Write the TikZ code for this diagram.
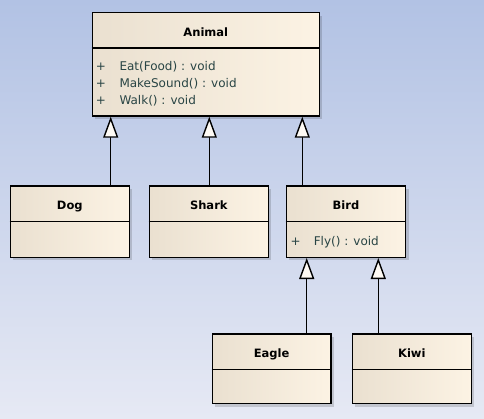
\documentclass[tikz,border=0pt]{standalone}
\usepackage{fontspec}
\setmainfont{DejaVu Sans}
\usetikzlibrary{arrows.meta,shadows}
\definecolor{bgtop}{RGB}{178,194,228}
\definecolor{bgbot}{RGB}{230,233,244}
\definecolor{boxl}{RGB}{234,224,208}
\definecolor{boxr}{RGB}{252,243,228}
\definecolor{optext}{RGB}{40,68,68}
\begin{document}
\begin{tikzpicture}[x=1pt,y=-1pt,
  classbox/.style={draw=black, line width=1.4pt, left color=boxl, right color=boxr,
    inner sep=0pt, drop shadow={shadow xshift=3pt, shadow yshift=-3pt, fill=black, opacity=0.15}},
  sep/.style={draw=black, line width=1.3pt},
  title/.style={anchor=base, inner sep=0pt, font=\fontsize{11.5}{13}\selectfont\bfseries},
  optxt/.style={anchor=base west, inner sep=0pt, text=optext, font=\fontsize{12}{14}\selectfont},
  vis/.style={anchor=base, inner sep=0pt, text=optext, font=\fontsize{12}{14}\selectfont},
  gen/.style={draw=black, line width=1.4pt, -{Triangle[length=21pt, width=15pt, fill=white!60!boxr]}}
]
\useasboundingbox (0,0) rectangle (484,418);
\shade[top color=bgtop, bottom color=bgbot] (0,0) rectangle (484,418);

% classes
\node[classbox, minimum width=227pt, minimum height=103.3pt] (animal) at (205.8,64.35) {};
\node[classbox, minimum width=119pt, minimum height=71.3pt] (dog) at (69.8,221.65) {};
\node[classbox, minimum width=119pt, minimum height=71.3pt] (shark) at (208.8,221.65) {};
\node[classbox, minimum width=119.4pt, minimum height=71.3pt] (bird) at (346,221.65) {};
\node[classbox, minimum width=118.7pt, minimum height=69.7pt] (eagle) at (271.65,368.85) {};
\node[classbox, minimum width=119pt, minimum height=69.7pt] (kiwi) at (411.8,368.85) {};

% separators and titles
\foreach \c/\t in {animal/Animal, dog/Dog, shark/Shark, bird/Bird, eagle/Eagle, kiwi/Kiwi}{
  \draw[sep] ([yshift=-36pt]\c.north west) -- ([yshift=-36pt]\c.north east);
  \node[title] (\c-title) at ([yshift=-24pt]\c.north) {\t};
}

% operations
\node[vis] (a-v1) at ([xshift=9.4pt,yshift=-58pt]animal.north west) {+};
\node[optxt] (a-o1) at ([xshift=27.7pt,yshift=-58pt]animal.north west) {Eat(Food) : void};
\node[vis] (a-v2) at ([xshift=9.4pt,yshift=-75.3pt]animal.north west) {+};
\node[optxt] (a-o2) at ([xshift=27.7pt,yshift=-75.3pt]animal.north west) {MakeSound() : void};
\node[vis] (a-v3) at ([xshift=9.4pt,yshift=-92pt]animal.north west) {+};
\node[optxt] (a-o3) at ([xshift=27.7pt,yshift=-92pt]animal.north west) {Walk() : void};
\node[vis] (b-v1) at ([xshift=10pt,yshift=-59.7pt]bird.north west) {+};
\node[optxt] (b-o1) at ([xshift=28pt,yshift=-59.7pt]bird.north west) {Fly() : void};

% generalizations
\coordinate (dogtop) at (110.7,186);
\coordinate (sharktop) at (209.3,186);
\coordinate (birdtop) at (302.3,186);
\coordinate (eagletop) at (306.7,334);
\coordinate (kiwitop) at (378.3,334);
\draw[gen] (dogtop) -- (dogtop |- animal.south);
\draw[gen] (sharktop) -- (sharktop |- animal.south);
\draw[gen] (birdtop) -- (birdtop |- animal.south);
\draw[gen] (eagletop) -- (eagletop |- bird.south);
\draw[gen] (kiwitop) -- (kiwitop |- bird.south);
\end{tikzpicture}
\end{document}
